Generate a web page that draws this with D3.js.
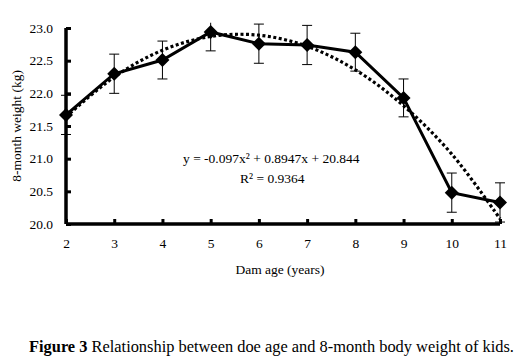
<!DOCTYPE html>
<html><head><meta charset="utf-8">
<script src="https://cdn.jsdelivr.net/npm/d3@7"></script>
<style>body{margin:0;background:#fff}svg{display:block}text{font-family:"Liberation Serif",serif !important;fill:#000}</style>
</head><body><svg id="c" width="531" height="364"></svg>
<script>
const ages = [2,3,4,5,6,7,8,9,10,11];
const weights = [21.67,22.30,22.51,22.94,22.76,22.74,22.63,21.93,20.48,20.33];
const errors = [0.30,0.30,0.29,0.29,0.30,0.30,0.29,0.29,0.30,0.30];
const trend = [21.64,22.25,22.66,22.87,22.89,22.72,22.36,21.81,21.07,20.08];
const yTicks = [20.0,20.5,21.0,21.5,22.0,22.5,23.0];
const equation = "y = -0.097x² + 0.8947x + 20.844";
const r2 = "R² = 0.9364";

const svg = d3.select("#c");
const x = d3.scaleLinear().domain([2,11]).range([66,500]);
const y = d3.scaleLinear().domain([20,23]).range([224,28]);

svg.append("defs").append("clipPath").attr("id","clip").append("rect")
  .attr("x",40).attr("y",y(23.08)).attr("width",480).attr("height",224-y(23.08)+20);

// axes
const ax = svg.append("g").attr("transform","translate(0,224)")
  .call(d3.axisBottom(x).tickValues(ages).tickSize(-5).tickPadding(14).tickFormat(d3.format("d")));
const ay = svg.append("g").attr("transform","translate(66,0)")
  .call(d3.axisLeft(y).tickValues(yTicks).tickSize(-5).tickPadding(13).tickFormat(d3.format(".1f")));
[ax,ay].forEach(g=>{
  g.attr("font-family","Liberation Serif").attr("font-size",13.5);
  g.select(".domain").attr("stroke","#000").attr("stroke-width",3.5);
  g.selectAll(".tick line").attr("stroke","#000").attr("stroke-width",3);
  g.selectAll(".tick text").attr("fill","#000");
});
ax.select(".domain").attr("d","M66,0H500");
ay.select(".domain").attr("d","M0,224V28");

const plot = svg.append("g").attr("clip-path","url(#clip)");

// trend line (dotted)
plot.append("path").datum(ages.map((a,i)=>[a,trend[i]]))
  .attr("d", d3.line().x(d=>x(d[0])).y(d=>y(d[1])).curve(d3.curveCatmullRom))
  .attr("fill","none").attr("stroke","#000").attr("stroke-width",3.2).attr("stroke-dasharray","3,2.5");

// error bars
const eb = plot.append("g").attr("stroke","#000").attr("stroke-width",1);
ages.forEach((a,i)=>{
  const lo = weights[i]-errors[i], hi = weights[i]+errors[i];
  eb.append("line").attr("x1",x(a)).attr("x2",x(a)).attr("y1",y(lo)).attr("y2",y(hi));
  [lo,hi].forEach(v=>eb.append("line").attr("x1",x(a)-5).attr("x2",x(a)+5).attr("y1",y(v)).attr("y2",y(v)));
});

// main line
plot.append("path").datum(ages.map((a,i)=>[a,weights[i]]))
  .attr("d", d3.line().x(d=>x(d[0])).y(d=>y(d[1])))
  .attr("fill","none").attr("stroke","#000").attr("stroke-width",3);

// markers
svg.append("g").selectAll("path").data(ages).join("path")
  .attr("transform",(d,i)=>`translate(${x(d)},${y(weights[i])})`)
  .attr("d","M0,-7L7,0L0,7L-7,0Z").attr("fill","#000");

// equation
svg.append("text").attr("x",183).attr("y",163).attr("font-size",13.5).text(equation);
svg.append("text").attr("x",240).attr("y",183).attr("font-size",13.5).text(r2);

// axis titles
svg.append("text").attr("x",280).attr("y",274).attr("text-anchor","middle").attr("font-size",13.5).text("Dam age (years)");
svg.append("text").attr("transform","translate(21,126) rotate(-90)").attr("text-anchor","middle").attr("font-size",13.5).text("8-month weight (kg)");

// caption
const cap = svg.append("text").attr("x",29).attr("y",352).attr("font-size",16.4);
cap.append("tspan").attr("font-weight","bold").text("Figure 3");
cap.append("tspan").text(" Relationship between doe age and 8-month body weight of kids.");
</script></body></html>
